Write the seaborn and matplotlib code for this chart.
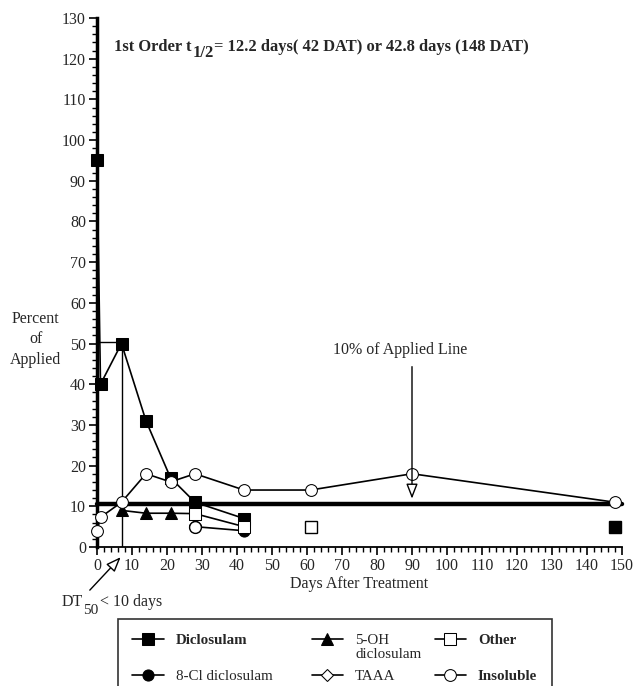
import seaborn as sns
import matplotlib.pyplot as plt
import pandas as pd

# dados
dias_diclo = [0, 1, 7, 14, 21, 28, 42]
diclo = [95, 40, 50, 31, 17, 11, 7]
dias_diclo_extra = [148]
diclo_extra = [5]

dias_oh = [7, 14, 21, 28]
oh = [9, 8.3, 8.3, 8.2]

dias_cl = [28, 42]
cl = [5, 4]

dias_taaa = [28]
taaa = [5.3]

dias_other = [28, 42]
other = [8.2, 5]
dias_other_extra = [61]
other_extra = [5]

dias_insol = [0, 1, 7, 14, 21, 28, 42, 61, 90, 148]
insol = [4, 7.3, 11, 18, 16, 18, 14, 14, 18, 11]

linha_10 = 10.5
dt50_dia = 7
dt50_valor = 50.5

sns.set_style("ticks")
plt.rcParams["font.family"] = ["Liberation Serif", "DejaVu Serif"]

W, H = 637, 686
fig = plt.figure(figsize=(W / 100, H / 100), dpi=100)
ax = fig.add_axes([97 / W, 1 - 547 / H, 525 / W, 529 / H])

fs = 11.5
estilo = dict(color="black", linewidth=1.2, clip_on=False, zorder=3)

# linhas de referência
ax.plot([0, 150], [linha_10, linha_10], color="black", linewidth=3.2, zorder=2, clip_on=False)
ax.plot([0, dt50_dia, dt50_dia], [dt50_valor, dt50_valor, 0], color="black", linewidth=1.0, zorder=2)

df = pd.DataFrame({"dia": dias_diclo, "v": diclo})
sns.lineplot(data=df, x="dia", y="v", ax=ax, marker="s", markersize=9,
             markerfacecolor="black", markeredgecolor="black", label="Diclosulam", **estilo)
sns.lineplot(x=dias_cl, y=cl, ax=ax, marker="o", markersize=8,
             markerfacecolor="black", markeredgecolor="black", label="8-Cl diclosulam", **estilo)
sns.lineplot(x=dias_oh, y=oh, ax=ax, marker="^", markersize=8.5,
             markerfacecolor="black", markeredgecolor="black", label="5-OH", **estilo)
sns.lineplot(x=dias_taaa, y=taaa, ax=ax, marker="D", markersize=6,
             markerfacecolor="white", markeredgecolor="black", label="TAAA", **estilo)
sns.lineplot(x=dias_other, y=other, ax=ax, marker="s", markersize=9,
             markerfacecolor="white", markeredgecolor="black", label="Other", **estilo)
sns.lineplot(x=dias_insol, y=insol, ax=ax, marker="o", markersize=8.5,
             markerfacecolor="white", markeredgecolor="black", label="Insoluble", **estilo)

# pontos soltos
ax.plot(dias_diclo_extra, diclo_extra, linestyle="none", marker="s", markersize=9,
        color="black", clip_on=False, zorder=4)
ax.plot(dias_other_extra, other_extra, linestyle="none", marker="s", markersize=9,
        markerfacecolor="white", markeredgecolor="black", clip_on=False, zorder=4)
# TAAA / 8-Cl em 28 sobrepostos
ax.plot(dias_cl[:1], cl[:1], linestyle="none", marker="o", markersize=8.5,
        markerfacecolor="white", markeredgecolor="black", zorder=5, clip_on=False)

ax.set_xlim(0, 150)
ax.set_ylim(0, 130)
ax.set_xticks(range(0, 151, 10))
ax.set_xticks(range(0, 151, 2), minor=True)
ax.set_yticks(range(0, 131, 10))
ax.set_yticks(range(0, 131, 2), minor=True)
ax.tick_params(axis="both", which="major", length=6, width=1.2, labelsize=fs, color="black", pad=2)
ax.tick_params(axis="both", which="minor", length=3.5, width=1.0, color="black")
sns.despine(ax=ax)
ax.spines["left"].set_linewidth(2.5)
ax.spines["bottom"].set_linewidth(1.3)
ax.spines["left"].set_color("black")
ax.spines["bottom"].set_color("black")

ax.set_xlabel("Days After Treatment", fontsize=fs, labelpad=1)
ax.set_ylabel("")
ax.text(-17.5, 51, "Percent\nof\nApplied", fontsize=fs, ha="center", va="center",
        multialignment="center", linespacing=1.35)

# título com subscrito grande
ft = 11.9
t1 = ax.text(5, 122, "1st Order t", fontsize=ft, fontweight="bold", ha="left", va="baseline")
t2 = ax.annotate("1/2", xy=(1, 0), xycoords=t1, xytext=(0.3, -5), textcoords="offset points",
                 fontsize=ft, fontweight="bold", ha="left", va="bottom")
ax.annotate("= 12.2 days( 42 DAT) or 42.8 days (148 DAT)", xy=(1, 0), xycoords=t2,
            xytext=(0.5, 5), textcoords="offset points",
            fontsize=ft, fontweight="bold", ha="left", va="bottom")

ax.text(86.5, 48.5, "10% of Applied Line", fontsize=fs, ha="center", va="center")
ax.annotate("", xy=(90, 11.2), xytext=(90, 45),
            arrowprops=dict(arrowstyle="-|>,head_length=0.9,head_width=0.35",
                            facecolor="white", edgecolor="black", linewidth=1.0))

ax.annotate("", xy=(7.3, -2.0), xytext=(-2.6, -11.1), annotation_clip=False,
            arrowprops=dict(arrowstyle="-|>,head_length=0.9,head_width=0.35",
                            facecolor="white", edgecolor="black", linewidth=1.0))
d1 = ax.text(-10, -14.5, "DT", fontsize=fs, ha="left", va="baseline")
d2 = ax.annotate("50", xy=(1, 0), xycoords=d1, xytext=(0.2, -5), textcoords="offset points",
                 fontsize=fs - 0.5, ha="left", va="bottom")
ax.annotate("< 10 days", xy=(1, 0), xycoords=d2, xytext=(1, 5), textcoords="offset points",
            fontsize=fs, ha="left", va="bottom")

# legenda
h, l = ax.get_legend_handles_labels()
ax.get_legend().remove()
fl = 10.8
leg = fig.legend(h, l, ncol=3, loc="upper left", bbox_to_anchor=(118 / W, 1 - 619 / H),
                 borderaxespad=0, frameon=True, fancybox=False, edgecolor="black", fontsize=fl,
                 handlelength=2.1, handletextpad=0.8, columnspacing=2.6,
                 borderpad=0.95, labelspacing=1.55)
leg.get_frame().set_linewidth(1.2)
for t in leg.get_texts():
    if t.get_text() in ("Diclosulam", "Other", "Insoluble"):
        t.set_fontweight("bold")

# segunda linha do rótulo "5-OH"
fig.canvas.draw()
for t in leg.get_texts():
    if t.get_text() == "5-OH":
        bb = t.get_window_extent()
        fig.text(bb.x0 / W, (bb.y0 - 1) / H, "diclosulam", fontsize=fl, ha="left", va="top",
                 zorder=10)

fig.savefig("out.png", dpi=100)
